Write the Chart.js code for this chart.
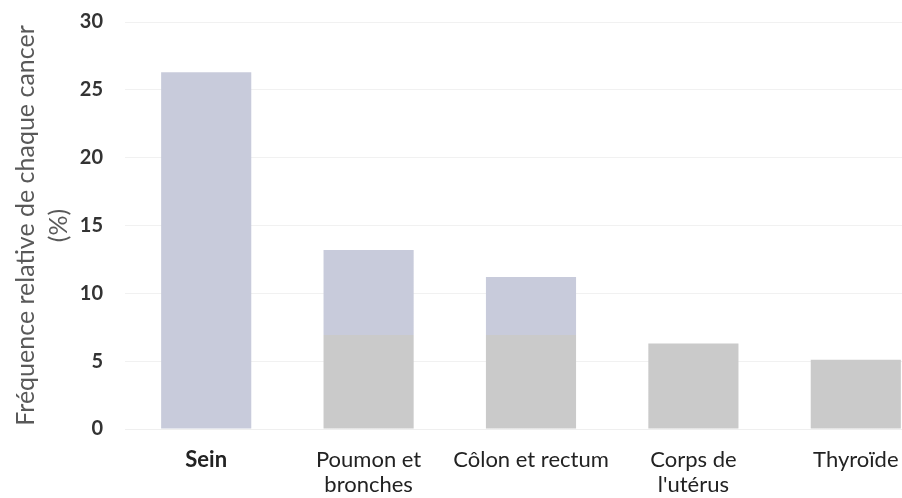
<!DOCTYPE html>
<html>
<head>
<meta charset="utf-8">
<script src="https://cdn.jsdelivr.net/npm/chart.js@4"></script>
<style>
  html, body { margin: 0; padding: 0; background: #fff; overflow: hidden; }
  #wrap { width: 902px; height: 498px; overflow: hidden; }
</style>
</head>
<body>
<div id="wrap"><canvas id="chart" width="940" height="498"></canvas></div>
<script>
  // Data
  const categories = ['Sein', ['Poumon et', 'bronches'], 'Côlon et rectum', ['Corps de', "l'utérus"], 'Thyroïde'];
  const frequencies = [26.3, 13.2, 11.2, 6.3, 5.1];
  const yTicks = [0, 5, 10, 15, 20, 25, 30];
  const axisTitle = ['Fréquence relative de chaque cancer', '(%)'];

  const blueish = '#c8cbdb';
  const greyish = '#cacaca';
  const tintSplit = 6.9; // scan tint changes colour below this value

  function barColor(ctx) {
    const chart = ctx.chart;
    const area = chart.chartArea;
    if (!area) return greyish;
    if (ctx.dataIndex === 0) return blueish;
    const y = chart.scales.y;
    const top = area.top, bottom = area.bottom;
    const split = (y.getPixelForValue(tintSplit) - top) / (bottom - top);
    const g = chart.ctx.createLinearGradient(0, top, 0, bottom);
    g.addColorStop(0, blueish);
    g.addColorStop(split, blueish);
    g.addColorStop(split, greyish);
    g.addColorStop(1, greyish);
    return g;
  }

  new Chart(document.getElementById('chart'), {
    type: 'bar',
    data: {
      labels: categories,
      datasets: [{
        data: frequencies,
        backgroundColor: barColor,
        borderWidth: 0,
        categoryPercentage: 1,
        barPercentage: 0.555
      }]
    },
    options: {
      responsive: false,
      animation: false,
      layout: { padding: { top: 22, right: 3, left: 0, bottom: 0 } },
      plugins: { legend: { display: false }, tooltip: { enabled: false } },
      scales: {
        x: {
          grid: { display: false, drawTicks: false },
          border: { display: true, color: '#efefef' },
          ticks: {
            color: '#222',
            padding: 18,
            maxRotation: 0,
            autoSkip: false,
            font: ctx => ({ family: 'Lato', size: 22, lineHeight: 1.15, weight: ctx.index === 0 ? 'bold' : 'normal' })
          },
          afterFit: scale => { scale.height = 69; }
        },
        y: {
          min: 0,
          max: 30,
          afterBuildTicks: scale => { scale.ticks = yTicks.map(v => ({ value: v })); },
          grid: { color: '#f1f1f1', drawTicks: false },
          border: { display: false },
          ticks: {
            color: '#333',
            padding: 22,
            font: { family: 'Lato', size: 20, weight: 'bold' }
          },
          title: {
            display: true,
            text: axisTitle,
            color: '#595959',
            padding: { top: 9, bottom: 0 },
            font: { family: 'Lato', size: 25, lineHeight: 1.32 }
          },
          afterFit: scale => {
            scale.width = 125;
            scale.paddingTop = 0;
            scale.paddingBottom = 0;
          }
        }
      }
    }
  });
</script>
</body>
</html>
